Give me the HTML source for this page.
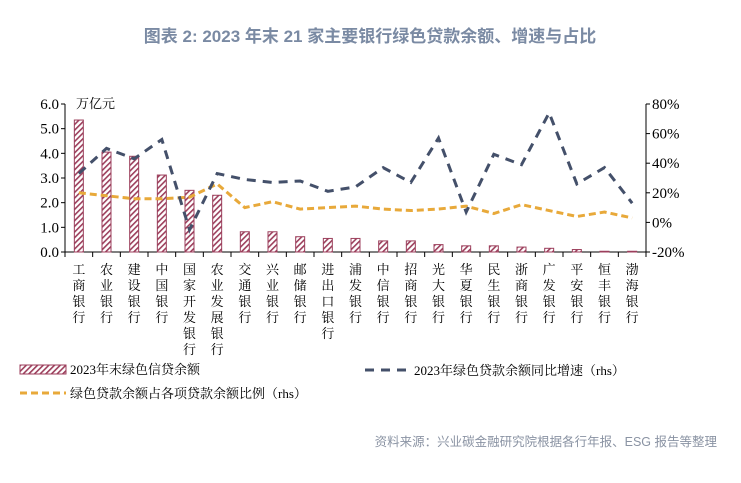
<!DOCTYPE html>
<html><head><meta charset="utf-8"><style>
body{margin:0;background:#fff;width:741px;height:478px;overflow:hidden;font-family:"Liberation Serif","Noto Serif CJK SC",serif;}
</style></head><body>
<svg width="741" height="478" xmlns="http://www.w3.org/2000/svg">
<defs><pattern id="hatch" width="4" height="4" patternUnits="userSpaceOnUse" patternTransform="rotate(45)"><rect width="4" height="4" fill="#fff"/><rect width="1.6" height="4" fill="#9c3f5c"/></pattern></defs>
<text x="370" y="42" text-anchor="middle" font-family="Liberation Sans,Noto Sans CJK SC,sans-serif" font-size="17" font-weight="bold" fill="#7a8aa3">图表 2:   2023 年末 21 家主要银行绿色贷款余额、增速与占比</text>
<g id="axes"></g><g id="marks"></g>
<text x="717" y="446" text-anchor="end" font-family="Liberation Sans,Noto Sans CJK SC,sans-serif" font-size="12.5" fill="#8a93a3">资料来源：兴业碳金融研究院根据各行年报、ESG 报告等整理</text>
</svg>
<script>
const categories=["工商银行","农业银行","建设银行","中国银行","国家开发银行","农业发展银行","交通银行","兴业银行","邮储银行","进出口银行","浦发银行","中信银行","招商银行","光大银行","华夏银行","民生银行","浙商银行","广发银行","平安银行","恒丰银行","渤海银行"];
const loans=[5.35,4.05,3.88,3.12,2.5,2.3,0.82,0.82,0.62,0.55,0.55,0.45,0.45,0.3,0.25,0.25,0.2,0.15,0.1,0.03,0.03];
const growth=[33,50,43,56,-5,33,29,27,28,21,24,37,27,57,7,46,39,74,26,37,13];
const ratio=[20,18,16,16,17,26,10,14,9,10,11,9,8,9,11,6,12,8,4,7,3];
const leftTicks=["0.0","1.0","2.0","3.0","4.0","5.0","6.0"];
const rightTicks=["-20%","0%","20%","40%","60%","80%"];
const NS="http://www.w3.org/2000/svg";
const X0=65,X1=646,Y0=252,Y1=104;
const SERIF="Liberation Serif, Noto Serif CJK SC, serif";
const band=(X1-X0)/categories.length;
const xc=i=>X0+band*(i+0.5);
const yL=v=>Y0-(v/6)*(Y0-Y1);
const yR=v=>Y0-((v+20)/100)*(Y0-Y1);
function mk(t,a,p){const e=document.createElementNS(NS,t);for(const k in a)e.setAttribute(k,a[k]);p.appendChild(e);return e;}
const ax=document.getElementById('axes'),mg=document.getElementById('marks');
let l=mk('line',{x1:X0,y1:Y1,x2:X0,y2:Y0,stroke:'#000'},ax);


l=mk('line',{x1:X0,y1:Y0,x2:X1,y2:Y0,stroke:'#000'},ax);


l=mk('line',{x1:X1,y1:Y1,x2:X1,y2:Y0,stroke:'#000'},ax);


leftTicks.forEach((t,i)=>{const y=yL(i);mk('line',{x1:X0-4,y1:y,x2:X0,y2:y,stroke:'#000'},ax);
const tx=mk('text',{x:X0-6,y:y+5,'text-anchor':'end','font-size':'15','font-family':SERIF},ax);tx.textContent=t;

});
rightTicks.forEach((t,i)=>{const y=yR(-20+i*20);mk('line',{x1:X1,y1:y,x2:X1+4,y2:y,stroke:'#000'},ax);
const tx=mk('text',{x:X1+6,y:y+5,'font-size':'15','font-family':SERIF},ax);tx.textContent=t;

});
const u=mk('text',{x:76,y:108,'font-size':'13','font-family':'Noto Serif CJK SC,serif'},ax);u.textContent='万亿元';


for(let i=0;i<=categories.length;i++){mk('line',{x1:X0+band*i,y1:Y0,x2:X0+band*i,y2:Y0+5,stroke:'#000'},ax);}
categories.forEach((c,i)=>{
 const b=mk('rect',{x:xc(i)-4.5,y:yL(loans[i]),width:9,height:Y0-yL(loans[i]),fill:'url(#hatch)',stroke:'#9c3f5c','stroke-width':'1'},mg);
 
 
 [...c].forEach((ch,k)=>{const t=mk('text',{x:xc(i),y:Y0+22+k*16,'text-anchor':'middle','font-size':'13','font-family':'Noto Serif CJK SC,serif'},ax);t.textContent=ch;});
});
function line(vals,color,dash,w,name){const d=vals.map((v,i)=>(i?'L':'M')+xc(i)+','+yR(v)).join('');
 const p=mk('path',{d:d,fill:'none',stroke:color,'stroke-width':w,'stroke-dasharray':dash},mg);
 
 }
line(ratio,'#e8a93a','7,4',3,'ratio-line');
line(growth,'#44506a','9,7',3,'growth-line');
const lg=mk('g',{},ax);


mk('rect',{x:20,y:365,width:46,height:9,fill:'url(#hatch)',stroke:'#9c3f5c'},lg);
let t=mk('text',{x:70,y:374,'font-size':'13','font-family':SERIF},lg);t.textContent='2023年末绿色信贷余额';
mk('line',{x1:365,y1:370,x2:410,y2:370,stroke:'#44506a','stroke-width':3,'stroke-dasharray':'9,7'},lg);
t=mk('text',{x:414,y:375,'font-size':'13','font-family':SERIF},lg);t.textContent='2023年绿色贷款余额同比增速（rhs）';
mk('line',{x1:20,y1:393,x2:66,y2:393,stroke:'#e8a93a','stroke-width':3,'stroke-dasharray':'7,4'},lg);
t=mk('text',{x:70,y:398,'font-size':'13','font-family':SERIF},lg);t.textContent='绿色贷款余额占各项贷款余额比例（rhs）';
</script>
</body></html>
